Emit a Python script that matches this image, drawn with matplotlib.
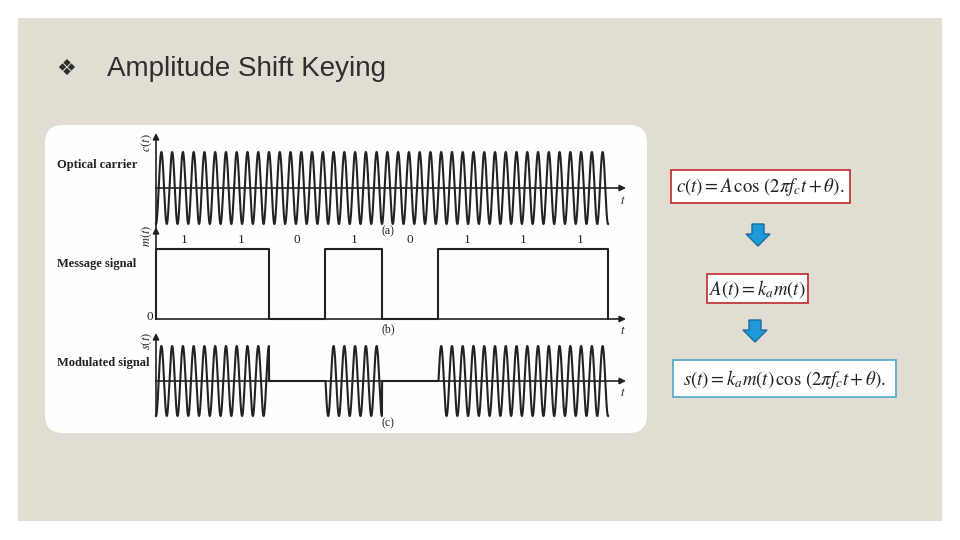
import numpy as np
import matplotlib.pyplot as plt
from matplotlib.patches import FancyBboxPatch, Rectangle, Polygon

plt.rcParams['mathtext.fontset'] = 'stix'

# data: message bits and carrier
bits = [1, 1, 0, 1, 0, 1, 1, 1]
bit_labels = ['1', '1', '0', '1', '0', '1', '1', '1']
cycles_per_bit = 5.25
row_names = ['Optical carrier', 'Message signal', 'Modulated signal']
row_ylabels = ['$c(t)$', '$m(t)$', '$s(t)$']
row_tags = ['(a)', '(b)', '(c)']
equations = [r'$c(t) = A\,\cos\,(2\pi f_c t + \theta).$',
             r'$A(t) = k_a m(t)$',
             r'$s(t) = k_a m(t)\,\cos\,(2\pi f_c t + \theta).$']
title = 'Amplitude Shift Keying'

n = len(bits)
t = np.linspace(0, n, 6000)
m = np.array(bits)[np.minimum(t.astype(int), n - 1)]
carrier = -np.cos(2 * np.pi * cycles_per_bit * t)
modulated = m * carrier

W, H = 960, 540
fig = plt.figure(figsize=(9.6, 5.4), dpi=100)
fig.patch.set_facecolor('white')
bg = fig.add_axes([0, 0, 1, 1])
bg.set_xlim(0, W)
bg.set_ylim(H, 0)
bg.axis('off')

# slide + white panel
bg.add_patch(Rectangle((18, 18), 924, 503, color='#e2ddd3', lw=0))
r = 18
bg.add_patch(FancyBboxPatch((45 + r, 125 + r), 602 - 2 * r, 308 - 2 * r,
                            boxstyle='round,pad=%d' % r, fc='#fefefe', ec='none'))

bg.text(66, 69, '\u2756', fontsize=16, color='#2e2e2e', ha='center', va='center',
        family='DejaVu Sans')
bg.text(107, 69, title, fontsize=20, color='#2e2e2e', ha='left', va='center',
        family='Liberation Sans')

# signal rows
x0, bit_px = 156, 56.5
ink = '#222222'
# (zero line px, unit px, axis top px, axis bottom px)
rows = [(188, 36, 133, 228), (319, 70, 227, 319), (381, 35, 333, 416)]


def add_row(zero_y, unit, ytop, ybot):
    xl, xr = 100, 650
    top, bot = ytop - 6, ybot + 14
    ax = fig.add_axes([xl / W, 1 - bot / H, (xr - xl) / W, (bot - top) / H])
    ax.set_xlim((xl - x0) / bit_px, (xr - x0) / bit_px)
    ax.set_ylim((zero_y - bot) / unit, (zero_y - top) / unit)
    ax.axis('off')
    x_end = (626 - x0) / bit_px
    ax.annotate('', xy=(x_end, 0), xytext=(0, 0),
                arrowprops=dict(arrowstyle='-|>', color=ink, lw=1.2, mutation_scale=9,
                                shrinkA=0, shrinkB=0))
    ax.annotate('', xy=(0, (zero_y - ytop) / unit), xytext=(0, (zero_y - ybot) / unit),
                arrowprops=dict(arrowstyle='-|>', color=ink, lw=1.2, mutation_scale=9,
                                shrinkA=0, shrinkB=0))
    return ax


axes = [add_row(*rw) for rw in rows]

axes[0].plot(t, carrier, color=ink, lw=1.5)

edges = np.arange(n + 1)
xs = np.r_[0, np.repeat(edges, 2)[1:-1], n]
ys = np.r_[0, np.repeat(bits, 2), 0]
axes[1].plot(xs, ys, color=ink, lw=1.5)
for i, lab in enumerate(bit_labels):
    axes[1].text(i + 0.5, 1.13, lab, fontsize=9.5, family='Liberation Serif',
                 ha='center', va='center', color=ink)

axes[2].plot(t, modulated, color=ink, lw=1.5)

# text around rows
name_y = [165, 264, 363]
ylab_y = [143, 236, 341]
t_y = [200, 331, 393]
tag_y = [231, 329, 423]
for i in range(3):
    bg.text(57, name_y[i], row_names[i], fontsize=9, family='Liberation Serif',
            weight='bold', ha='left', va='center', color=ink)
    bg.text(147, ylab_y[i], row_ylabels[i], fontsize=9, rotation=90,
            ha='center', va='center', color=ink)
    bg.text(623, t_y[i], '$t$', fontsize=9, ha='center', va='center', color=ink)
    bg.text(388, tag_y[i], row_tags[i], fontsize=8.5, family='Liberation Serif',
            ha='center', va='center', color=ink)
bg.text(150, 317, '0', fontsize=9.5, family='Liberation Serif', ha='center',
        va='center', color=ink)

# equation boxes
boxes = [(671, 170, 179, 33, '#c0282d'), (707, 274, 101, 29, '#c0282d'),
         (673, 360, 223, 37, '#4ea8cc')]
for (bx, by, bw, bh, ec), eq in zip(boxes, equations):
    bg.add_patch(Rectangle((bx, by), bw, bh, fc='white', ec=ec, lw=1.2))
    bg.text(bx + bw / 2, by + bh / 2 + 1, eq, fontsize=13.5, ha='center',
            va='center', color='#222222')

# blue arrows
for cx, ty in [(758, 224), (755, 320)]:
    pts = [(cx - 6, ty), (cx + 6, ty), (cx + 6, ty + 10), (cx + 12, ty + 10),
           (cx, ty + 22), (cx - 12, ty + 10), (cx - 6, ty + 10)]
    bg.add_patch(Polygon(pts, closed=True, fc='#1e9ad8', ec='#1a6c9e', lw=1))

fig.savefig('out.png', dpi=100)
